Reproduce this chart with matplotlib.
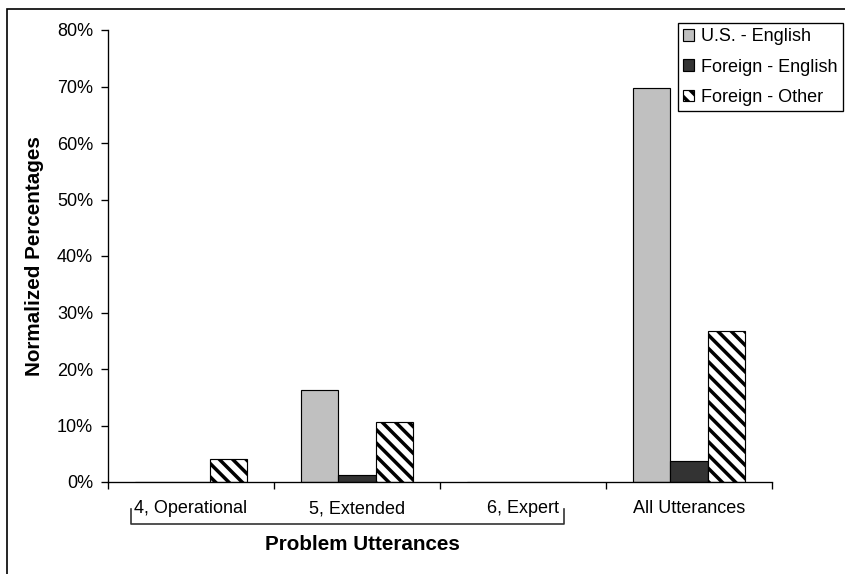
import matplotlib
matplotlib.use('Agg')
import matplotlib.pyplot as plt
import numpy as np
from matplotlib.patches import Patch, Rectangle
from matplotlib.ticker import PercentFormatter

plt.rcParams['font.family'] = ['Liberation Sans', 'DejaVu Sans']
plt.rcParams['hatch.linewidth'] = 2.1
plt.rcParams['hatch.color'] = 'black'

# Normalized percentages per utterance category
categories = ['4, Operational', '5, Extended', '6, Expert', 'All Utterances']
series_names = ['U.S. - English', 'Foreign - English', 'Foreign - Other']
us_english = [0.0, 16.3, 0.0, 69.8]
foreign_english = [0.0, 1.2, 0.0, 3.7]
foreign_other = [4.1, 10.6, 0.0, 26.8]
problem_group = [0, 2]  # first/last category under the "Problem Utterances" bracket

series = [us_english, foreign_english, foreign_other]
fills = ['#c0c0c0', '#333333', 'white']
hatches = [None, None, '\\\\\\']

dpi = 120
fig = plt.figure(figsize=(845 / dpi, 574 / dpi), dpi=dpi)
ax = fig.add_axes([108 / 845, 92 / 574, 664 / 845, 452 / 574])

x = np.arange(len(categories))
width = 0.225
for i, (vals, fc, h) in enumerate(zip(series, fills, hatches)):
    ax.bar(x + (i - 1) * width, vals, width, color=fc, edgecolor='black',
           linewidth=0.7, hatch=h, label=series_names[i])

ax.set_xlim(-0.5, len(categories) - 0.5)
ax.set_ylim(0, 80)
ax.set_yticks(np.arange(0, 81, 10))
ax.yaxis.set_major_formatter(PercentFormatter(decimals=0))

# category boundaries carry the tick marks, centres carry the labels
ax.set_xticks(np.arange(-0.5, len(categories), 1.0))
ax.set_xticklabels([])
ax.set_xticks(x, minor=True)
ax.set_xticklabels(categories, minor=True)
ax.tick_params(axis='x', which='major', length=4, width=0.8, color='black')
ax.tick_params(axis='x', which='minor', length=0, pad=11, labelsize=10.8)
ax.tick_params(axis='y', length=4, width=0.8, pad=5, labelsize=10.8)

for side in ['top', 'right']:
    ax.spines[side].set_visible(False)
for side in ['left', 'bottom']:
    ax.spines[side].set_linewidth(0.8)
    ax.spines[side].set_color('black')

# bracket under the problem-utterance categories
bx0 = problem_group[0] - 0.361
bx1 = problem_group[1] + 0.247
tr = ax.get_xaxis_transform()
ax.plot([bx0, bx0, bx1, bx1], [-0.060, -0.093, -0.093, -0.060], color='#333333',
        lw=1.0, transform=tr, clip_on=False)

fig.text(35 / 845, 1 - 256 / 574, 'Normalized Percentages', rotation=90,
         ha='center', va='center', fontsize=12.4, fontweight='bold')
fig.text(362 / 845, 1 - 545 / 574, 'Problem Utterances', ha='center',
         va='center', fontsize=12.4, fontweight='bold')

handles = [Patch(facecolor=fc, edgecolor='black', linewidth=0.7, hatch=h)
           for fc, h in zip(fills, hatches)]
leg = fig.legend(handles, series_names, loc='upper left',
                 bbox_to_anchor=(678 / 845, 1 - 23 / 574), borderaxespad=0,
                 fontsize=10.8, handlelength=0.6, handleheight=0.6,
                 handletextpad=0.4, labelspacing=0.73, borderpad=0.3,
                 fancybox=False, framealpha=1)
leg.get_frame().set_edgecolor('black')
leg.get_frame().set_linewidth(0.8)

# chart-area border (top and left edges visible)
fig.patches.append(Rectangle((7 / 845, -0.5), 2, 1.5 - 9 / 574, fill=False,
                             edgecolor='black', linewidth=1.0,
                             transform=fig.transFigure, figure=fig))

fig.savefig('out.png', dpi=dpi)
